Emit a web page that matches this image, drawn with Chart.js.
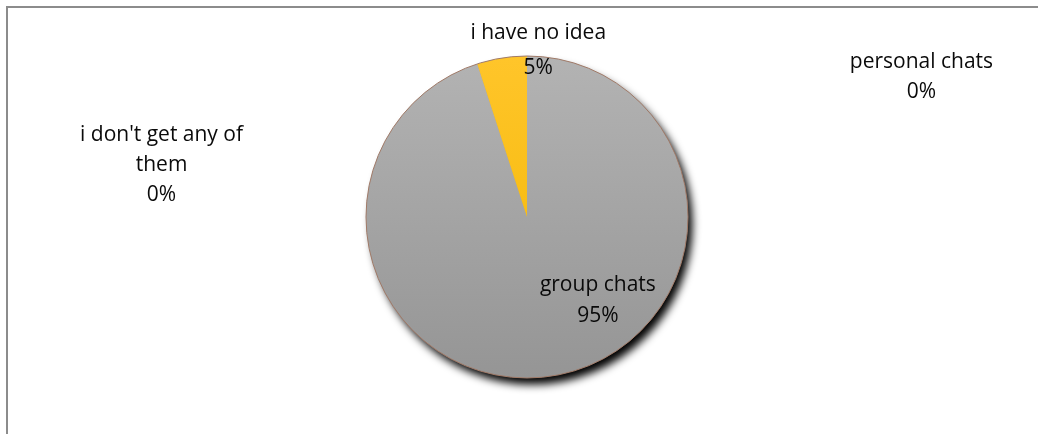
<!DOCTYPE html>
<html lang="en">
<head>
  <meta charset="UTF-8">
  <title>Chats</title>
  <script src="https://cdn.jsdelivr.net/npm/chart.js"></script>
  <style>
    html, body {
      margin: 0;
      padding: 0;
      background: #fff;
      overflow: hidden;
    }
    .wrap {
      position: absolute;
      left: 0;
      top: 0;
      width: 1038px;
      height: 434px;
    }
  </style>
</head>
<body>
  <div class="wrap"><canvas id="pie"></canvas></div>

  <script>
    // slices, clockwise from 12 o'clock
    const categories = ['personal chats', 'group chats', "i don't get any of them", 'i have no idea'];
    const shares = [0, 95, 0, 5];
    const labelLines = [
      ['personal chats'],
      ['group chats'],
      ["i don't get any of", 'them'],
      ['i have no idea']
    ];

    const FONT = '21px "Open Sans", "Noto Sans", sans-serif';

    function sliceFill(ctx, index) {
      const area = ctx.chart.chartArea;
      if (!area) return index === 3 ? '#ffc000' : '#a6a6a6';
      const g = ctx.chart.ctx.createLinearGradient(0, area.top, 0, area.bottom);
      if (index === 3) {
        g.addColorStop(0, '#ffc52a');
        g.addColorStop(1, '#f2b600');
      } else {
        g.addColorStop(0, '#b3b3b3');
        g.addColorStop(1, '#959595');
      }
      return g;
    }

    // chart frame: only the top and left edges fall inside the page
    const framePlugin = {
      id: 'frame',
      beforeDraw(chart) {
        const c = chart.ctx;
        c.save();
        c.strokeStyle = '#8c8c8c';
        c.lineWidth = 2;
        c.beginPath();
        c.moveTo(7, chart.height);
        c.lineTo(7, 7);
        c.lineTo(chart.width, 7);
        c.stroke();
        c.restore();
      }
    };

    // one shadowed disc behind the slices, outline on top
    const shadowPlugin = {
      id: 'pieShadow',
      beforeDatasetsDraw(chart) {
        const arc = chart.getDatasetMeta(0).data[0];
        if (!arc) return;
        const c = chart.ctx;
        c.save();
        c.shadowColor = 'rgba(0,0,0,1)';
        c.shadowBlur = 9;
        c.shadowOffsetX = 5;
        c.shadowOffsetY = 7;
        c.fillStyle = '#a0a0a0';
        c.beginPath();
        c.arc(arc.x, arc.y, arc.outerRadius - 0.5, 0, Math.PI * 2);
        c.fill();
        c.restore();
      },
      afterDatasetsDraw(chart) {
        const arc = chart.getDatasetMeta(0).data[0];
        if (!arc) return;
        const c = chart.ctx;
        c.save();
        c.strokeStyle = '#a07a68';
        c.lineWidth = 1;
        c.beginPath();
        c.arc(arc.x, arc.y, arc.outerRadius, 0, Math.PI * 2);
        c.stroke();
        c.restore();
      }
    };

    // category name + percentage next to each slice
    const labelPlugin = {
      id: 'sliceLabels',
      afterDraw(chart) {
        const c = chart.ctx;
        const arcs = chart.getDatasetMeta(0).data;
        const total = shares.reduce((a, b) => a + b, 0);
        c.save();
        c.font = FONT;
        c.fillStyle = '#0a0a0a';
        c.textAlign = 'center';
        c.textBaseline = 'middle';
        arcs.forEach((arc, i) => {
          const pct = Math.round(shares[i] / total * 100) + '%';
          const lines = labelLines[i].concat([pct]);
          const cx = arc.x, cy = arc.y, r = arc.outerRadius;
          let x, y, gap = 30;
          if (i === 1) {
            x = cx + r * 0.44; y = cy + r * 0.42; gap = 31;
          } else if (i === 3) {
            x = cx + r * 0.07; y = cy - r * 1.14; gap = 35;
          } else if (i === 0) {
            x = cx + r * 2.45; y = cy - r * 0.96;
          } else {
            x = cx - r * 2.27; y = cy - r * 0.51;
          }
          lines.forEach((t, k) => c.fillText(t, x, y + k * gap));
        });
        c.restore();
      }
    };

    new Chart(document.getElementById('pie'), {
      type: 'pie',
      data: {
        labels: categories,
        datasets: [{
          data: shares,
          backgroundColor: ctx => sliceFill(ctx, ctx.dataIndex),
          borderWidth: 0
        }]
      },
      options: {
        responsive: true,
        maintainAspectRatio: false,
        animation: false,
        layout: {
          padding: { left: 216, right: 200, top: 56, bottom: 56 }
        },
        plugins: {
          legend: { display: false },
          tooltip: { enabled: false }
        }
      },
      plugins: [framePlugin, shadowPlugin, labelPlugin]
    });
  </script>
</body>
</html>
